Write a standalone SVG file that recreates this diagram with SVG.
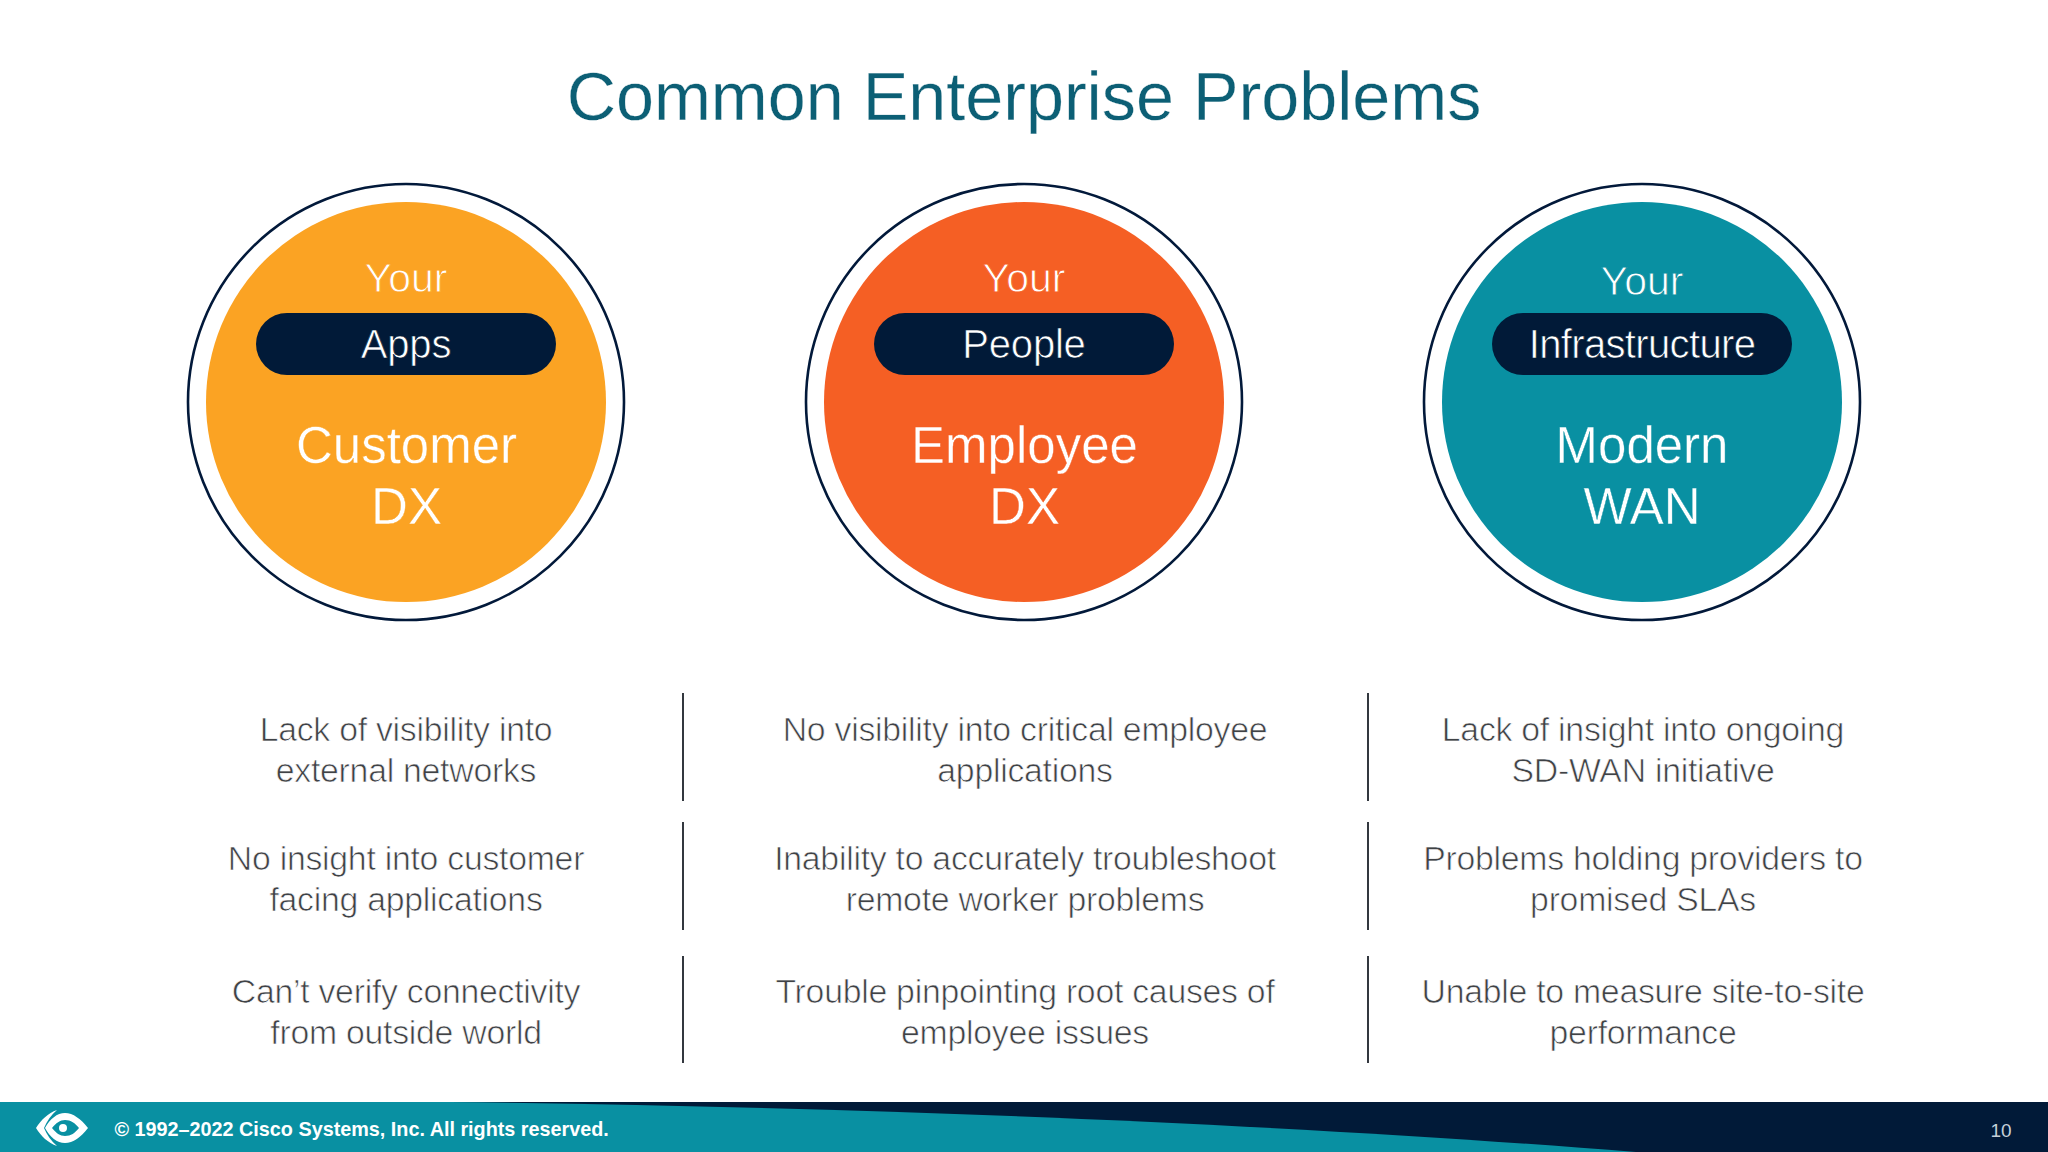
<svg xmlns="http://www.w3.org/2000/svg" width="2048" height="1152" viewBox="0 0 2048 1152">
<style>
text{text-anchor:middle;font-family:"Liberation Sans",Arial,sans-serif}
.t{font-size:68.3px;fill:#0c5f75;stroke:#fff;stroke-width:.3}
.y{font-size:41px;fill:#fff;stroke-width:.9}
.p{font-size:40px;fill:#fff;stroke:#011a38;stroke-width:.7;letter-spacing:-.2px}
.h{font-size:51px;fill:#fff;stroke-width:.4}
.b{font-size:33.8px;fill:#3f4246;stroke:#fff;stroke-width:.7;letter-spacing:-.26px}
.ring{fill:#fff;stroke:#02193a;stroke-width:2.6}
.pill{fill:#011a38}
.d{stroke:#33383f;stroke-width:2}
.o text{stroke:#fba323}.p1 text{stroke:#f55f24}.q text{stroke:#0990a2}
.o .p,.p1 .p,.q .p{stroke:#011a38}
</style>
<rect width="2048" height="1152" fill="#fff"/>
<text class="t" x="1024" y="120">Common Enterprise Problems</text>
<g id="n1" class="o"><circle class="ring" cx="406" cy="402" r="218"/><circle cx="406" cy="402" r="200" fill="#fba323"/><text class="y" x="406" y="292">Your</text><rect class="pill" x="256" y="313" width="300" height="62" rx="31"/><text class="p" x="406" y="358">Apps</text><text class="h" x="406.5" y="463">Customer</text><text class="h" x="406.5" y="524">DX</text></g>
<g id="n2" class="p1"><circle class="ring" cx="1024" cy="402" r="218"/><circle cx="1024" cy="402" r="200" fill="#f55f24"/><text class="y" x="1024" y="292">Your</text><rect class="pill" x="874" y="313" width="300" height="62" rx="31"/><text class="p" x="1024" y="358">People</text><text class="h" x="1024.5" y="463">Employee</text><text class="h" x="1024.5" y="524">DX</text></g>
<g id="n3" class="q"><circle class="ring" cx="1642" cy="402" r="218"/><circle cx="1642" cy="402" r="200" fill="#0990a2"/><text class="y" x="1642" y="295">Your</text><rect class="pill" x="1492" y="313" width="300" height="62" rx="31"/><text class="p" x="1642" y="358" style="letter-spacing:-.65px">Infrastructure</text><text class="h" x="1642" y="463">Modern</text><text class="h" x="1642" y="524">WAN</text></g>
<g id="connectors"><path class="d" d="M683 693V801M683 822V930M683 956V1063M1368 693V801M1368 822V930M1368 956V1063"/></g>
<g id="c1"><text class="b" x="406" y="741">Lack of visibility into</text><text class="b" x="406" y="782">external networks</text><text class="b" x="406" y="870">No insight into customer</text><text class="b" x="406" y="911">facing applications</text><text class="b" x="406" y="1003">Can’t verify connectivity</text><text class="b" x="406" y="1044">from outside world</text></g>
<g id="c2"><text class="b" x="1025" y="741">No visibility into critical employee</text><text class="b" x="1025" y="782">applications</text><text class="b" x="1025" y="870">Inability to accurately troubleshoot</text><text class="b" x="1025" y="911">remote worker problems</text><text class="b" x="1025" y="1003">Trouble pinpointing root causes of</text><text class="b" x="1025" y="1044">employee issues</text></g>
<g id="c3"><text class="b" x="1643" y="741">Lack of insight into ongoing</text><text class="b" x="1643" y="782">SD-WAN initiative</text><text class="b" x="1643" y="870">Problems holding providers to</text><text class="b" x="1643" y="911">promised SLAs</text><text class="b" x="1643" y="1003">Unable to measure site-to-site</text><text class="b" x="1643" y="1044">performance</text></g>
<g id="footer"><rect y="1102" width="2048" height="50" fill="#011a38"/><path d="M0 1102H450C880 1107 1300 1125 1636 1152H0Z" fill="#0990a2"/>
<path d="M36 1128C41 1120 48 1113 57 1110C51 1115 47 1121 44 1128C47 1135 51 1141 57 1146C48 1143 41 1136 36 1128Z" fill="#fff"/>
<path d="M45 1128C50 1119 57 1113 65 1113C73 1113 81 1119 88 1128C81 1137 73 1143 65 1143C57 1143 50 1137 45 1128ZM52 1128C56 1133 60 1136 65 1136C71 1136 75 1133 79 1128C75 1123 71 1120 65 1120C60 1120 56 1123 52 1128Z" fill="#fff" fill-rule="evenodd"/>
<circle cx="63" cy="1128" r="4" fill="#fff"/>
<text x="114.5" y="1135.5" style="text-anchor:start;font-size:19.8px;font-weight:700;fill:#fff">© 1992–2022 Cisco Systems, Inc. All rights reserved.</text><text x="2001" y="1137" style="font-size:19px;fill:#c5d0da">10</text></g>
</svg>
